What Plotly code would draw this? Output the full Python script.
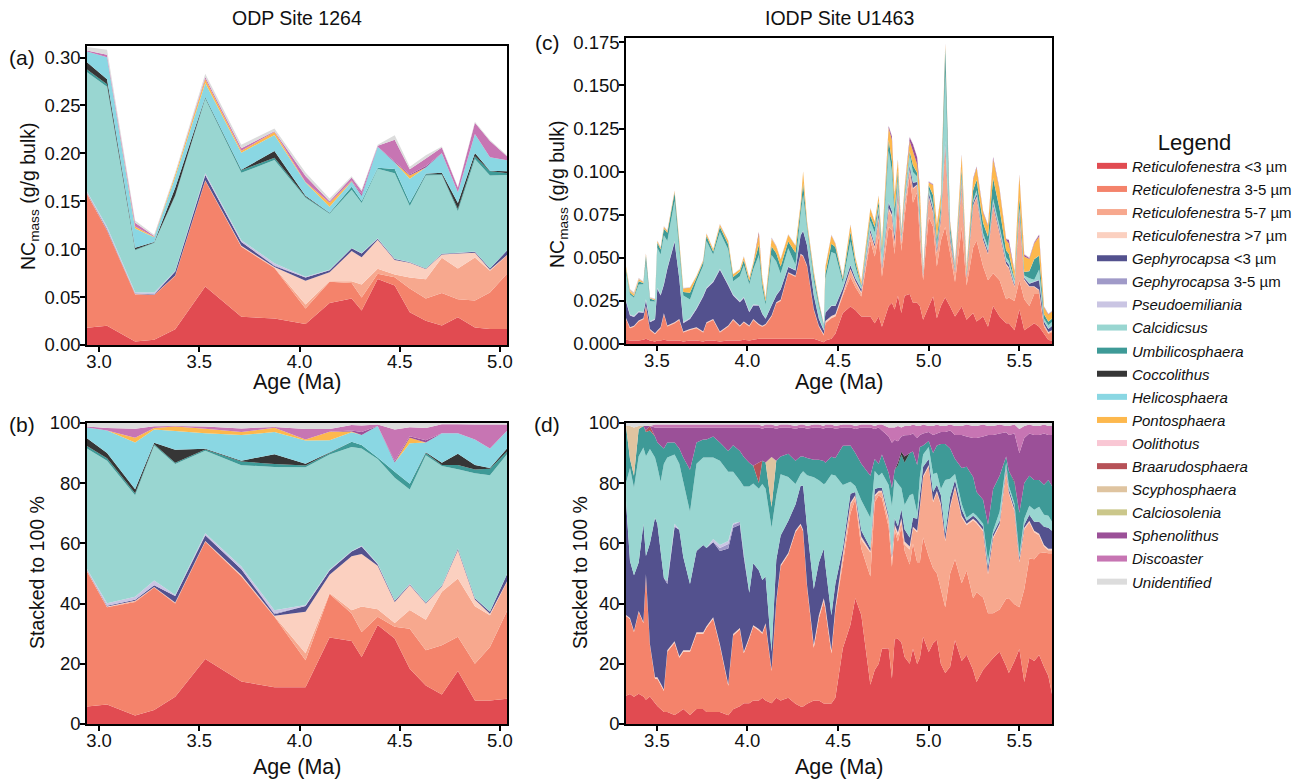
import numpy as np
import plotly.graph_objects as go

# =================== ODP Site 1264 ===================
age_1264 = [2.94, 3.04, 3.18, 3.275, 3.38, 3.53, 3.71, 3.875, 4.03, 4.15, 4.26,
            4.31, 4.39, 4.475, 4.55, 4.63, 4.71, 4.79, 4.875, 4.95, 5.035]
total_1264 = [0.311, 0.308, 0.130, 0.115, 0.180, 0.283, 0.209, 0.226, 0.180, 0.153, 0.176,
              0.162, 0.209, 0.219, 0.186, 0.198, 0.207, 0.165, 0.233, 0.214, 0.198]
# relative abundance (%) per group
p1264_R3 = [5.8, 6.5, 2.8, 4.7, 9.1, 21.6, 14.1, 12.2, 12.2, 28.7, 27.6, 22.3, 32.9, 28.4, 18.4, 12.8, 9.8, 17.6, 7.8, 7.8, 8.4]
p1264_R35 = [44.9, 32.3, 37.8, 40.7, 31.0, 39.1, 34.9, 23.4, 9.0, 14.5, 9.1, 8.3, 2.7, 3.9, 13.3, 11.7, 16.4, 11.4, 12.2, 17.8, 29.2]
p1264_R57 = [0.2, 0.1, 0.3, 0.1, 0.2, 0.1, 0.2, 0.2, 2.3, 0.3, 1.1, 8.4, 2.5, 1.3, 6.2, 10.2, 17.8, 19.4, 19.2, 10.6, 9.7]
p1264_R7 = [0.1, 0.1, 0.1, 0.1, 0.1, 0.1, 0.3, 0.2, 13.8, 6.1, 17.9, 17.5, 14.5, 7.0, 8.3, 5.4, 1.7, 9.5, 2.2, 0.5, 0.2]
p1264_G3 = [0.2, 0.3, 0.3, 0.6, 2.2, 1.9, 1.9, 0.5, 1.9, 1.4, 1.6, 2.5, 0.5, 0.4, 0.3, 0.2, 0.3, 0.4, 0.4, 0.6, 2.3]
p1264_G35 = [0, 0, 0, 0, 0, 0, 0, 0.3, 0, 0, 0, 0, 0, 0, 0, 0, 0, 0, 0, 0, 0]
p1264_Ps = [0.3, 0.8, 1.0, 1.6, 0.3, 0.7, 0.9, 1.0, 0.3, 0.3, 0.2, 0.2, 0.2, 0.1, 0.1, 0.1, 0.1, 0.1, 0.1, 0.1, 0.1]
p1264_Calc = [40.0, 47.4, 33.8, 44.9, 43.6, 27.5, 33.7, 47.6, 45.8, 38.2, 34.5, 32.3, 34.7, 40.8, 31.4, 49.0, 39.7, 26.3, 41.5, 45.3, 39.8]
p1264_Umb = [0.9, 0.8, 0.6, 0.4, 0.4, 0.4, 1.2, 1.0, 0.6, 0.5, 1.8, 1.2, 0.5, 2.0, 1.9, 0.7, 0.3, 1.4, 1.2, 2.2, 0.9]
p1264_Cocc = [2.5, 1.7, 1.4, 0.5, 4.3, 0.2, 0.3, 3.2, 0.6, 0.2, 0, 0, 0, 0, 0, 0.3, 0.8, 3.8, 1.5, 0.2, 1.0]
p1264_Heli = [3.6, 7.5, 15.5, 4.4, 6.2, 5.2, 8.5, 7.4, 7.7, 4.1, 3.1, 3.3, 10.5, 3.1, 13.5, 3.2, 9.8, 6.8, 8.5, 6.5, 5.9]
p1264_Pont = [0, 0, 1.6, 0.5, 1.5, 1.5, 1.0, 1.4, 0.3, 2.8, 0.3, 0, 0, 0, 1.8, 0, 0, 0, 0, 0, 0]
p1264_Ool = [0, 0, 0, 0, 0, 0, 0, 0, 0, 0, 0, 0, 0, 0, 0, 0, 0, 0, 0, 0, 0]
p1264_Braa = [0, 0, 0, 0, 0, 0, 0, 0, 0, 0, 0, 0, 0, 0, 0, 0, 0, 0, 0, 0, 0]
p1264_Scy = [0, 0, 0, 0, 0, 0, 0, 0, 0, 0, 0, 0, 0, 0, 0, 0, 0, 0, 0, 0, 0]
p1264_Calcio = [0, 0, 0, 0, 0, 0, 0, 0, 0, 0, 0, 0, 0, 0, 0, 0, 0, 0, 0, 0, 0]
p1264_Sph = [0, 0, 0, 0, 0, 0, 0, 0, 0, 0, 0.3, 1.0, 0, 0.5, 0.5, 0.8, 0, 0, 0, 0, 0]
p1264_Disc = [0.3, 0.8, 3.0, 0.6, 0.2, 0.7, 1.2, 0.3, 3.5, 0.9, 1.8, 2.2, 0.5, 10.4, 3.0, 4.0, 3.0, 3.0, 5.0, 8.0, 2.1]
p1264_Unid = [1.2, 1.7, 1.9, 1.1, 1.0, 1.2, 1.8, 1.3, 2.0, 2.0, 0.7, 0.8, 0.5, 2.2, 1.4, 1.7, 0.4, 0.4, 0.5, 0.5, 0.5]

# =================== IODP Site U1463 ===================
age_u1463 = [3.330, 3.352, 3.374, 3.400, 3.426, 3.440, 3.462, 3.490, 3.503, 3.521, 3.539, 3.558,
             3.598, 3.624, 3.646, 3.683, 3.719, 3.756, 3.774, 3.811, 3.848, 3.894, 3.921, 3.958, 3.980, 4.010, 4.032,
             4.063, 4.082, 4.100, 4.133, 4.159, 4.183, 4.225, 4.265, 4.293, 4.307, 4.329, 4.366, 4.394, 4.421,
             4.430, 4.463, 4.485, 4.526, 4.568, 4.595, 4.628, 4.678, 4.702, 4.724, 4.742,
             4.779, 4.797, 4.812, 4.830, 4.849, 4.867, 4.895, 4.913, 4.936, 4.951, 4.969, 5.000, 5.024, 5.045,
             5.067, 5.091, 5.118, 5.145, 5.182, 5.209, 5.245, 5.264, 5.300, 5.327, 5.355, 5.391, 5.427, 5.442,
             5.473, 5.500, 5.527, 5.555, 5.582, 5.609, 5.636, 5.660, 5.680]

# NC mass (g/g bulk), panel c
c_R3 = [0.0025, 0.002, 0.002, 0.002, 0.0025, 0.003, 0.002, 0.0015, 0.002, 0.002, 0.0025, 0.002,
        0.002, 0.002, 0.0015, 0.002, 0.002, 0.0015, 0.002, 0.002, 0.0015, 0.002, 0.002, 0.002, 0.0025, 0.002, 0.0025,
        0.003, 0.003, 0.003, 0.003, 0.003, 0.003, 0.003, 0.003, 0.003, 0.003, 0.003, 0.003, 0.002, 0.001,
        0.002, 0.003, 0.006, 0.018, 0.0217, 0.0197, 0.016, 0.016, 0.012, 0.016, 0.010,
        0.022, 0.024, 0.020, 0.028, 0.018, 0.028, 0.029, 0.024, 0.024, 0.022, 0.014, 0.0217, 0.0275, 0.015,
        0.022, 0.027, 0.0217, 0.016, 0.0217, 0.014, 0.018, 0.013, 0.016, 0.010, 0.022, 0.016, 0.012, 0.012,
        0.008, 0.020, 0.008, 0.010, 0.012, 0.010, 0.006, 0.0023, 0.002]
c_R35 = [0.012, 0.0071, 0.008, 0.011, 0.0119, 0.0187, 0.0061, 0.0042, 0.0052, 0.0071, 0.0148, 0.0081,
         0.010, 0.0119, 0.0052, 0.0061, 0.0071, 0.0052, 0.010, 0.0119, 0.0052, 0.0081, 0.0119, 0.0081, 0.010, 0.0081, 0.0114,
         0.008, 0.007, 0.008, 0.013, 0.0206, 0.022, 0.038, 0.036, 0.0487, 0.0477, 0.042, 0.0167, 0.008, 0.004,
         0.010, 0.0119, 0.0099, 0.010, 0.0173, 0.0133, 0.0115, 0.044, 0.0387, 0.0463, 0.029,
         0.046, 0.042, 0.032, 0.054, 0.036, 0.046, 0.069, 0.058, 0.064, 0.038, 0.023, 0.052, 0.0405, 0.030,
         0.038, 0.041, 0.031, 0.020, 0.046, 0.020, 0.038, 0.047, 0.029, 0.027, 0.019, 0.021, 0.014, 0.015,
         0.017, 0.017, 0.018, 0.012, 0.017, 0.019, 0.004, 0.0037, 0.005]
c_R57 = [0.0003, 0.0003, 0.0003, 0.0003, 0.0003, 0.0003, 0.0003, 0.0003, 0.0003, 0.0003, 0.0003, 0.0003,
         0.0003, 0.0003, 0.0003, 0.0003, 0.0003, 0.0003, 0.0003, 0.0003, 0.0003, 0.0003, 0.0003, 0.0003, 0.0003, 0.0003, 0.0003,
         0.0003, 0.0003, 0.0003, 0.0003, 0.0003, 0.0003, 0.0003, 0.0003, 0.0003, 0.0003, 0.0003, 0.0003, 0.0003, 0.0003,
         0.0003, 0.0003, 0.0003, 0.001, 0.004, 0.003, 0.002, 0.004, 0.005, 0.011, 0.004,
         0.010, 0.008, 0.006, 0.006, 0.004, 0.006, 0.003, 0.008, 0.004, 0.008, 0.002, 0.0116, 0.008, 0.0077,
         0.012, 0.047, 0.0073, 0.005, 0.025, 0.004, 0.024, 0.025, 0.015, 0.015, 0.039, 0.027, 0.020, 0.017,
         0.008, 0.039, 0.011, 0.011, 0.004, 0.002, 0.001, 0.0005, 0.0005]
c_R7 = [0.0003, 0.0003, 0.0003, 0.0003, 0.0003, 0.0003, 0.0003, 0.0003, 0.0003, 0.0003, 0.0003, 0.0003,
        0.0003, 0.0003, 0.0003, 0.0003, 0.0003, 0.0003, 0.0003, 0.0003, 0.0003, 0.0003, 0.0003, 0.0003, 0.0003, 0.0003, 0.0003,
        0.0003, 0.0003, 0.0003, 0.0003, 0.0003, 0.0003, 0.0003, 0.0003, 0.0003, 0.0003, 0.0003, 0.0003, 0.0003, 0.0005,
        0.001, 0.001, 0.001, 0.0007, 0.0007, 0.0007, 0.0007, 0.0007, 0.0007, 0.0007, 0.0007,
        0.001, 0.001, 0.001, 0.001, 0.001, 0.001, 0.0005, 0.0005, 0.0005, 0.0005, 0.0005, 0.0005, 0.0005, 0.0005,
        0.0005, 0.0005, 0.0005, 0.0005, 0.0005, 0.0005, 0.0005, 0.0005, 0.0005, 0.0005, 0.0005, 0.0005, 0.0005, 0.0005,
        0.0005, 0.0005, 0.0005, 0.0005, 0.0005, 0.0005, 0.0005, 0.0005, 0.0005]
c_G3 = [0.0097, 0.0068, 0.005, 0.0048, 0.003, 0.003, 0.0039, 0.0077, 0.0242, 0.0184, 0.0165, 0.0329,
        0.0465, 0.0233, 0.0048, 0.0058, 0.0106, 0.0203, 0.0194, 0.0213, 0.0358, 0.0232, 0.0136, 0.0135, 0.0136, 0.0077, 0.0078,
        0.0107, 0.0068, 0.003, 0.0057, 0.0039, 0.006, 0.003, 0.003, 0.0106, 0.0143, 0.0115, 0.0078, 0.004, 0.002,
        0.0048, 0.0058, 0.0048, 0.0025, 0.002, 0.0015, 0.0015, 0.0015, 0.0015, 0.0025, 0.0015,
        0.003, 0.002, 0.003, 0.003, 0.001, 0.001, 0.002, 0.003, 0.0015, 0.0015, 0.0008, 0.002, 0.002, 0.002,
        0.002, 0.002, 0.002, 0.001, 0.002, 0.001, 0.0015, 0.0015, 0.0015, 0.0015, 0.0015, 0.0015, 0.0015, 0.0015,
        0.001, 0.001, 0.001, 0.0015, 0.0025, 0.0055, 0.0015, 0.0017, 0.0025]
c_G35 = [0.0002, 0.0002, 0.0002, 0.0002, 0.0002, 0.0002, 0.0002, 0.0002, 0.0002, 0.0002, 0.0002, 0.0002,
         0.0002, 0.0002, 0.0002, 0.0002, 0.0002, 0.0002, 0.0002, 0.0002, 0.0002, 0.0002, 0.0002, 0.0002, 0.0002, 0.0002, 0.0002,
         0.0001, 0.0001, 0.0001, 0.0001, 0.0001, 0.0001, 0.0001, 0.0001, 0.0001, 0.0001, 0.0001, 0.0001, 0.0001, 0.0001,
         0.0001, 0.0001, 0.0001, 0.0001, 0.0001, 0.0001, 0.0001, 0.0001, 0.0001, 0.0001, 0.0001,
         0.0001, 0.0001, 0.0001, 0.0001, 0.0001, 0.0001, 0.0001, 0.0001, 0.0001, 0.0001, 0.0001, 0.0001, 0.0001, 0.0001,
         0.0001, 0.0001, 0.0001, 0.0001, 0.0001, 0.0001, 0.0001, 0.0001, 0.0001, 0.0001, 0.0001, 0.0001, 0.0001, 0.0001,
         0.0001, 0.0001, 0.0001, 0.0001, 0.0001, 0.0001, 0.0001, 0.0001, 0.0001]
c_Ps = [0.0004, 0.0004, 0.0004, 0.0004, 0.0004, 0.0004, 0.0004, 0.0004, 0.0004, 0.0004, 0.0004, 0.0004,
        0.0004, 0.0004, 0.0004, 0.0004, 0.0004, 0.0004, 0.0004, 0.0004, 0.0004, 0.0004, 0.0004, 0.0004, 0.0004, 0.0004, 0.0004,
        0.0002, 0.0002, 0.0002, 0.0002, 0.0002, 0.0002, 0.0002, 0.0002, 0.0002, 0.0002, 0.0002, 0.0002, 0.0002, 0.0002,
        0.0002, 0.0002, 0.0002, 0.0002, 0.0002, 0.0002, 0.0002, 0.0002, 0.0002, 0.0002, 0.0002,
        0.0001, 0.0001, 0.0001, 0.0001, 0.0001, 0.0001, 0.0001, 0.0001, 0.0001, 0.0001, 0.0001, 0.0001, 0.0001, 0.0001,
        0.0001, 0.0001, 0.0001, 0.0001, 0.0001, 0.0001, 0.0001, 0.0001, 0.0001, 0.0001, 0.0001, 0.0001, 0.0001, 0.0001,
        0.0001, 0.0001, 0.0001, 0.0001, 0.0001, 0.0001, 0.0001, 0.0001, 0.0001]
c_Calc = [0.0155, 0.0116, 0.0106, 0.0155, 0.016, 0.0213, 0.0116, 0.0101, 0.0232, 0.0232, 0.0281, 0.0155,
          0.0232, 0.0155, 0.0155, 0.0107, 0.0155, 0.0174, 0.0271, 0.0155, 0.0213, 0.0203, 0.0077, 0.0145, 0.0184, 0.0155, 0.0203,
          0.029, 0.0145, 0.0077, 0.029, 0.0195, 0.009, 0.0106, 0.003, 0.0117, 0.0206, 0.0095, 0.0085, 0.0067, 0.002,
          0.0192, 0.031, 0.030, 0.003, 0.0135, 0.0065, 0.001, 0.005, 0.0065, 0.003, 0.0065,
          0.030, 0.023, 0.010, 0.004, 0.002, 0.003, 0.006, 0.006, 0.003, 0.004, 0.0005, 0.002, 0.002, 0.002,
          0.002, 0.040, 0.002, 0.001, 0.002, 0.001, 0.001, 0.002, 0.002, 0.002, 0.002, 0.002, 0.002, 0.002,
          0.002, 0.001, 0.001, 0.003, 0.001, 0.006, 0.0015, 0.002, 0.002]
c_Umb = [0.0023, 0.001, 0.0009, 0.0019, 0.0007, 0.0039, 0.0016, 0.0006, 0.0029, 0.0029, 0.0038, 0.0048,
         0.0048, 0.0038, 0.0019, 0.0039, 0.002, 0.002, 0.0029, 0.0016, 0.0029, 0.0029, 0.0024, 0.0026, 0.0029, 0.0019, 0.0025,
         0.0058, 0.003, 0.0019, 0.0049, 0.0047, 0.004, 0.0039, 0.007, 0.0038, 0.0067, 0.002, 0.003, 0.002, 0.0007,
         0.003, 0.0048, 0.0039, 0.002, 0.0055, 0.0029, 0.001, 0.003, 0.003, 0.003, 0.003,
         0.006, 0.006, 0.006, 0.004, 0.001, 0.002, 0.002, 0.004, 0.002, 0.004, 0.0005, 0.002, 0.0056, 0.0035,
         0.004, 0.014, 0.004, 0.001, 0.004, 0.001, 0.006, 0.006, 0.006, 0.006, 0.012, 0.010, 0.004, 0.004,
         0.001, 0.006, 0.002, 0.004, 0.012, 0.008, 0.0025, 0.002, 0.002]
c_Cocc = [0, 0, 0, 0, 0, 0, 0, 0, 0, 0, 0, 0, 0, 0, 0, 0, 0, 0, 0, 0, 0, 0, 0, 0, 0, 0, 0,
          0, 0, 0, 0, 0, 0, 0, 0, 0, 0, 0, 0, 0, 0, 0, 0, 0, 0, 0, 0, 0, 0, 0, 0, 0,
          0, 0, 0, 0.0003, 0.0003, 0.0003, 0, 0, 0, 0, 0, 0, 0, 0, 0, 0, 0, 0, 0, 0, 0, 0, 0, 0,
          0, 0, 0, 0, 0, 0, 0, 0, 0, 0, 0, 0, 0, 0, 0, 0, 0]
c_Heli = [0.0001, 0.0001, 0.0001, 0.0001, 0.0001, 0.0001, 0.0001, 0.0001, 0.0001, 0.0001, 0.0001, 0.0001,
          0.0001, 0.0001, 0.0001, 0.0001, 0.0001, 0.0001, 0.0001, 0.0001, 0.0001, 0.0001, 0.0001, 0.0001, 0.0001, 0.0001, 0.0001,
          0.0001, 0.0001, 0.0001, 0.0001, 0.0001, 0.0001, 0.0001, 0.0001, 0.0001, 0.0001, 0.0001, 0.0001, 0.0001, 0.0001,
          0.0001, 0.0001, 0.0001, 0.0001, 0.0001, 0.0001, 0.0001, 0.0001, 0.0001, 0.0001, 0.0001,
          0.0001, 0.0001, 0.0001, 0.0001, 0.0001, 0.0001, 0.0001, 0.0001, 0.0001, 0.0001, 0.0001, 0.0001, 0.0001, 0.0001,
          0.0001, 0.0001, 0.0001, 0.0001, 0.0001, 0.0001, 0.0001, 0.0001, 0.0001, 0.0001, 0.0001, 0.0001, 0.0001, 0.0001,
          0.0001, 0.0001, 0.0001, 0.0001, 0.0001, 0.0001, 0.0001, 0.0001, 0.0001]
c_Pont = [0.0016, 0.0009, 0.001, 0.001, 0.0006, 0.0009, 0.0004, 0.0006, 0.001, 0.001, 0.001, 0.001,
          0.001, 0.002, 0.002, 0.0029, 0.0009, 0.0009, 0.0013, 0.0013, 0.0013, 0.002, 0.0015, 0.0013, 0.0019, 0.002, 0.0014,
          0.0058, 0.003, 0.002, 0.0044, 0.0039, 0.004, 0.0038, 0.004, 0.0022, 0.0067, 0.002, 0.002, 0.001, 0.0003,
          0.004, 0.0048, 0.0019, 0.001, 0.004, 0.0023, 0.002, 0.004, 0.003, 0.0031, 0.0035,
          0.007, 0.012, 0.008, 0.006, 0.002, 0.003, 0.006, 0.008, 0.005, 0.012, 0.0005, 0.0016, 0.0058, 0.008,
          0.0056, 0.002, 0.002, 0.001, 0.008, 0.002, 0.006, 0.007, 0.006, 0.006, 0.011, 0.011, 0.006, 0.006,
          0.004, 0.013, 0.009, 0.007, 0.009, 0.011, 0.004, 0.004, 0.004]
c_Ool = [0, 0, 0, 0, 0, 0, 0, 0, 0, 0, 0, 0, 0, 0, 0, 0, 0, 0, 0, 0, 0, 0, 0, 0, 0, 0, 0,
         0, 0, 0, 0, 0, 0, 0, 0, 0, 0, 0, 0, 0, 0, 0, 0, 0, 0, 0, 0, 0, 0, 0, 0, 0,
         0, 0, 0, 0, 0, 0, 0, 0, 0, 0, 0, 0, 0, 0, 0, 0, 0, 0, 0, 0, 0, 0, 0, 0, 0, 0, 0, 0,
         0, 0, 0, 0, 0, 0, 0, 0, 0]
c_Braa = [0, 0, 0, 0, 0, 0.0003, 0, 0, 0, 0, 0, 0, 0, 0, 0, 0, 0, 0, 0, 0, 0, 0, 0, 0, 0, 0, 0,
          0.0015, 0, 0, 0, 0, 0, 0, 0, 0, 0, 0, 0, 0, 0, 0, 0, 0, 0, 0, 0, 0, 0, 0, 0, 0,
          0, 0, 0, 0, 0, 0, 0, 0, 0, 0, 0, 0, 0, 0, 0, 0, 0, 0, 0, 0, 0, 0, 0, 0, 0, 0, 0, 0,
          0, 0, 0, 0, 0, 0, 0, 0, 0]
c_Scy = [0, 0.0008, 0.001, 0.0005, 0, 0, 0, 0, 0, 0, 0, 0, 0, 0, 0, 0, 0, 0, 0, 0, 0, 0, 0, 0, 0, 0, 0,
         0, 0, 0, 0.0004, 0, 0, 0, 0, 0, 0, 0, 0, 0, 0, 0, 0, 0, 0, 0, 0, 0, 0, 0, 0, 0,
         0, 0, 0, 0, 0, 0, 0, 0, 0, 0, 0, 0, 0, 0, 0, 0, 0, 0, 0, 0, 0, 0, 0, 0, 0, 0, 0, 0,
         0, 0, 0, 0, 0, 0, 0, 0, 0]
c_Calcio = [0, 0, 0, 0, 0, 0, 0, 0, 0, 0, 0, 0, 0, 0, 0, 0, 0, 0, 0, 0, 0, 0, 0, 0, 0, 0, 0,
            0, 0, 0, 0, 0, 0, 0, 0, 0, 0, 0, 0, 0, 0, 0, 0, 0, 0, 0, 0, 0, 0, 0, 0, 0,
            0, 0, 0, 0, 0, 0, 0, 0, 0, 0, 0, 0, 0, 0, 0, 0, 0, 0, 0, 0, 0, 0, 0, 0, 0, 0, 0, 0,
            0, 0, 0, 0, 0, 0, 0, 0, 0]
c_Sph = [0, 0, 0, 0, 0, 0, 0, 0, 0, 0, 0, 0, 0, 0, 0, 0, 0, 0, 0, 0, 0, 0, 0, 0, 0, 0, 0,
         0.0001, 0.0001, 0.0001, 0.0001, 0.0001, 0.0001, 0.0001, 0.0001, 0.0001, 0.0001, 0.0001, 0.0001, 0.0001, 0.0001,
         0.0001, 0.0001, 0.0001, 0.0001, 0.0001, 0.0001, 0.0001, 0.0001, 0.0001, 0.0001, 0.0001,
         0.001, 0.002, 0.0003, 0.0003, 0.0003, 0.0003, 0.002, 0.004, 0.004, 0.0005, 0.0002, 0.0003, 0.0003, 0.0003,
         0.0003, 0.0005, 0.0003, 0.0003, 0.0005, 0.0003, 0.0005, 0.0005, 0.0005, 0.0005, 0.001, 0.0005, 0.0005, 0.002,
         0.0003, 0.0005, 0.001, 0.0005, 0.0005, 0.001, 0.0003, 0.0002, 0.0002]
c_Disc = [0.0001, 0.0001, 0.0001, 0.0001, 0.0001, 0.0001, 0.0001, 0.0001, 0.0001, 0.0001, 0.0001, 0.0001,
          0.0001, 0.0001, 0.0001, 0.0001, 0.0001, 0.0001, 0.0001, 0.0001, 0.0001, 0.0001, 0.0001, 0.0001, 0.0001, 0.0001, 0.0001,
          0.0001, 0.0001, 0.0001, 0.0001, 0.0001, 0.0001, 0.0001, 0.0001, 0.0001, 0.0001, 0.0001, 0.0001, 0.0001, 0.0001,
          0.0001, 0.0001, 0.0001, 0.0001, 0.0001, 0.0001, 0.0001, 0.0001, 0.0001, 0.0001, 0.0001,
          0.0002, 0.0002, 0.0002, 0.0002, 0.0002, 0.0002, 0.0002, 0.0002, 0.0002, 0.0002, 0.0002, 0.0002, 0.0002, 0.0002,
          0.0002, 0.0002, 0.0002, 0.0002, 0.0002, 0.0002, 0.0002, 0.0002, 0.0002, 0.0002, 0.0002, 0.0002, 0.0002, 0.0002,
          0.0002, 0.0002, 0.0002, 0.0002, 0.0002, 0.0002, 0.0002, 0.0002, 0.0002]
c_Unid = [0.0003, 0.0003, 0.0003, 0.0003, 0.0003, 0.0003, 0.0003, 0.0003, 0.0003, 0.0003, 0.0003, 0.0003,
          0.0003, 0.0003, 0.0003, 0.0003, 0.0003, 0.0003, 0.0003, 0.0003, 0.0003, 0.0003, 0.0003, 0.0003, 0.0003, 0.0003, 0.0003,
          0.0003, 0.0003, 0.0003, 0.0003, 0.0003, 0.0003, 0.0003, 0.0003, 0.0003, 0.0003, 0.0003, 0.0003, 0.0003, 0.0003,
          0.0003, 0.0003, 0.0003, 0.0003, 0.0003, 0.0003, 0.0003, 0.0003, 0.0003, 0.0003, 0.0003,
          0.0003, 0.0003, 0.0003, 0.0003, 0.0003, 0.0003, 0.0003, 0.0003, 0.0003, 0.0003, 0.0003, 0.0003, 0.0003, 0.0003,
          0.0003, 0.0003, 0.0003, 0.0003, 0.0003, 0.0003, 0.0003, 0.0003, 0.0003, 0.0003, 0.0003, 0.0003, 0.0003, 0.0003,
          0.0003, 0.0003, 0.0003, 0.0003, 0.0003, 0.0003, 0.0003, 0.0003, 0.0003]

# relative abundance (%), panel d
d_R3 = [9.4, 10, 9, 10, 9, 8, 9, 7, 6, 5, 4, 4,
        3, 4, 5, 3, 5, 5, 4, 4, 4, 3, 5, 6, 7, 7, 8,
        8, 9, 8, 7, 9, 8, 9, 7, 6, 6, 7, 8, 8, 7, 7, 7, 9, 25, 33, 42, 36, 13, 18, 20, 25,
        25, 15, 28, 28, 27, 22, 20, 25, 20, 22, 29, 24, 27, 28, 20, 17, 19, 28, 21, 23, 18, 14, 18, 20, 22, 24,
        19, 17, 21, 25, 14, 22, 21, 23, 19, 16, 10]
d_R35 = [26.6, 25, 21.5, 27, 24, 41, 17, 8, 9, 8, 7, 20,
         24, 18, 19, 21, 25, 25, 28, 31, 22, 10, 25, 26, 17, 22, 25,
         24, 22, 26, 11, 33, 46, 49, 59, 62, 60, 40, 18, 28, 35, 32, 17, 30, 28, 37, 33, 22, 36, 56, 56, 50,
         40, 37, 36, 32, 38, 35, 33, 35, 34, 32, 33, 32, 25, 22, 25, 22, 31, 27, 26, 28, 24, 30, 24, 17, 15, 14,
         22, 25, 19, 14, 31, 33, 34, 34, 38, 41, 47]
d_R57 = [0, 0, 0, 0, 0, 0, 0, 0, 0, 0, 0, 0,
         0, 0, 0, 0, 0, 0, 0, 0, 0, 0, 0, 0, 0, 0, 0,
         0, 0, 0, 0, 0, 0, 0, 0, 0, 0, 0, 0, 0, 0, 0, 0, 0, 2, 3, 1, 3, 8, 2, 1, 2,
         2, 2, 1, 2, 2, 2, 5, 5, 10, 18, 20, 30, 22, 27, 28, 22, 22, 24, 22, 15, 26, 23, 22, 13, 25, 28,
         42, 35, 31, 15, 20, 12, 9, 6, 2, 1, 1]
d_R7 = [0.3, 0.3, 0.3, 0.3, 0.3, 0.5, 0.3, 0.5, 0.5, 0.5, 0.5, 0.5,
        0.5, 0.5, 0.5, 0.5, 0.5, 0.5, 0.5, 0.5, 0.5, 0.5, 0.5, 0.5, 0.5, 0.5, 0.5,
        0.5, 0.5, 0.5, 0.5, 0.5, 0.5, 0.5, 0.5, 0.5, 0.5, 0.5, 1, 1, 1, 1, 1, 1, 1, 0.5, 0.5, 1, 0.5, 0.5, 0.5, 0.5,
        1, 1, 1, 1, 1, 1, 1, 0.5, 0.5, 0.5, 0.5, 0.5, 0.5, 0.5, 0.5, 0.5, 0.5, 0.5, 0.5, 0.5, 0.5, 0.5, 0.5, 0.5, 0.5, 0.5,
        0.5, 0.5, 0.5, 0.5, 0.5, 0.5, 0.5, 0.5, 0.5, 0.5, 0.5]
d_G3 = [38, 19, 18.5, 16, 32, 6, 33, 53, 51, 44, 37, 22,
        38, 42, 31, 22, 27, 29, 26, 25, 31, 46, 36, 35, 32, 15, 21,
        20, 18, 16, 6, 14, 10, 11, 9, 13, 15, 20, 19, 18, 17, 14, 12, 8, 2, 3, 1, 2, 1, 2, 1, 1,
        1, 1, 2, 2, 3, 4, 3, 3, 4, 4, 3, 2, 3, 2, 3, 2, 3, 2, 2, 1, 1, 1, 1, 2, 1, 1,
        1, 1, 1, 1, 1, 2, 3, 4, 6, 7, 6]
d_G35 = [0, 0, 0, 0, 0, 0, 0, 0, 0, 0, 0, 1,
         0, 0, 0, 0, 0, 0, 0, 0, 1, 1.5, 1, 1, 1, 0, 0,
         0, 0, 0, 0, 0, 0, 0, 0, 0, 0, 0, 0, 0, 0, 0, 0, 0, 0, 0, 0, 0, 0, 0, 0, 0,
         0, 0, 0, 0, 0, 0, 0, 0, 0, 0, 0, 0, 0, 0, 0, 0, 0, 0, 0, 0, 0, 0, 0, 0, 0, 0,
         0, 0, 0, 0, 0, 0, 0, 0, 0, 0, 0]
d_Ps = [0, 0, 0, 0, 0, 0, 0, 0, 0, 0, 0, 0,
        1, 0, 0, 0, 0, 0, 0, 1, 1, 1, 0.5, 0, 0, 0, 0,
        0, 0, 0, 0, 0, 0, 0, 0, 0, 0, 0, 0, 0, 0, 0, 0, 0, 0, 0, 0, 0, 0, 0, 0, 0,
        0, 0, 0, 0, 0, 0, 0, 0, 0, 0, 0, 0, 0, 0, 0, 0, 0, 0, 0, 0, 0, 0, 0, 0, 0, 0,
        0, 0, 0, 0, 0, 0, 0, 0, 0, 0, 0]
d_Calc = [6, 31, 29, 35, 25, 33, 31, 20, 19, 23, 38, 41,
          23, 22, 25, 24, 29, 29, 30, 27, 28, 23.5, 17.5, 14, 23, 36, 27,
          28, 33, 30, 42, 22, 21, 15, 7, 4, 5, 18, 38, 28, 22, 28, 48, 37, 21, 4, 2, 10, 10, 6, 4, 5,
          10, 16, 13, 14, 7, 8, 14, 8, 2, 6, 4, 4, 6, 4, 2, 18, 6, 2, 2, 1, 1, 1, 1, 2, 1, 3,
          1, 1, 1, 1, 2, 3, 4, 5, 4, 4, 3]
d_Umb = [19, 3, 4, 9, 7, 8, 6, 7, 8, 12, 5, 5,
         4, 5, 8, 14, 7, 6, 6, 7, 6, 7, 9, 10, 10, 8, 6,
         2, 8, 9, 7, 12, 6, 8, 8, 6, 5, 6, 6, 7, 8, 7, 6, 6, 13, 12, 11, 12, 14, 4, 4, 6,
         4, 6, 3, 6, 11, 14, 14, 14, 16, 10, 3, 2, 7, 9, 15, 12, 10, 5, 12, 17, 12, 8, 8, 12, 14, 12,
         2, 5, 7, 14, 12, 10, 10, 9, 10, 12, 12]
d_Cocc = [0, 0, 0, 0, 0, 0, 0, 0, 0, 0, 0, 0,
          0, 0, 0, 0, 0, 0, 0, 0, 0, 0, 0, 0, 0, 0, 0,
          0, 0, 0, 0, 0, 0, 0, 0, 0, 0, 0, 0, 0, 0, 0, 0, 0, 0, 0, 0, 0, 0, 0, 0, 0,
          0, 0, 0, 1, 1, 2, 0, 0, 0, 0, 0, 0, 0, 0, 0, 0, 0, 0, 0, 0, 0, 0, 0, 0, 0, 0,
          0, 0, 0.5, 0, 0, 0, 0, 0, 0, 0, 0]
d_Heli = [0, 0, 0, 0, 0, 0, 0, 0, 0, 0, 0, 0,
          0, 0, 0, 0, 0, 0, 0, 0, 0, 0, 0, 0, 0, 0, 0,
          0, 0, 0, 0, 0, 0, 0, 0, 0, 0, 0, 0, 0, 0, 0, 0, 0, 0, 0, 0, 0, 0, 0, 0, 0,
          0, 0, 0, 0, 0, 0, 0, 0, 0, 0, 0, 0, 0, 0, 0, 0, 0, 0, 0, 0, 0, 0, 0, 0, 0, 0,
          0, 0, 0, 0, 0, 0, 0, 0, 0, 0, 0]
d_Pont = list(d_Heli)
d_Ool = list(d_Heli)
d_Calcio = list(d_Heli)
d_Braa = [0, 0, 0, 0, 0, 0.5, 1.5, 0, 0, 0, 0, 0,
          0, 0, 0, 0, 0, 0, 0, 0, 0, 0, 0, 0, 0, 0, 0,
          7, 0, 0, 0, 0, 0, 0, 0, 0, 0, 0, 0, 0, 0, 0, 0, 0, 0, 0, 0, 0, 0, 0, 0, 0,
          0, 0, 0, 0, 0, 0, 0, 0, 0, 0, 0, 0, 0, 0, 0, 0, 0, 0, 0, 0, 0, 0, 0, 0, 0, 0,
          0, 0, 0, 0, 0, 0, 0, 0, 0, 0, 0]
d_Scy = [0, 11, 16, 1, 0, 0, 0, 0, 0, 0, 0, 0,
         0, 0, 0, 0, 0, 0, 0, 0, 0, 0, 0, 0, 0, 0, 0,
         0, 0, 0, 17, 0, 0, 0, 0, 0, 0, 0, 0, 0, 0, 0, 0, 0, 0, 0, 0, 0, 0, 0, 0, 0,
         0, 0, 0, 0, 0, 0, 0, 0, 0, 0, 0, 0, 0, 0, 0, 0, 0, 0, 0, 0, 0, 0, 0, 0, 0, 0,
         0, 0, 0, 0, 0, 0, 0, 0, 0, 0, 0]
d_Sph = [0, 0, 0, 0, 0, 1.5, 0, 3, 5, 6, 7, 5,
         5, 7, 10, 14, 5, 4, 4, 3, 5, 8, 6, 8, 10, 12, 13,
         12, 11, 12, 10, 11, 10, 9, 11, 10, 10, 10, 11, 11, 11, 12, 10, 10, 6, 6, 8, 12, 16, 10, 12, 8,
         12, 15, 10, 7, 5, 7, 6, 6, 9, 4, 4, 3, 6, 4, 4, 4, 6, 8, 11, 10, 13, 18, 21, 30, 18, 14,
         8, 12, 16, 20, 15, 14, 15, 15, 17, 15, 17]
d_Disc = [0, 0, 0, 0, 0, 0, 0, 1, 1, 1, 1, 1,
          1, 1, 1, 1, 1, 1, 1, 1, 1, 1, 1, 1, 1, 1, 1,
          1, 1, 1, 1, 1, 1, 1, 1, 1, 1, 1, 1, 1, 1, 1, 1, 1, 1, 1, 1, 1, 1, 1, 1, 2,
          3, 5, 4, 5, 3, 3, 3, 3, 4, 3, 3, 2, 3, 3, 2, 2, 2, 3, 3, 4, 4, 4, 4, 3, 3, 3,
          2, 3, 3, 8, 4, 3, 3, 3, 3, 3, 3]
d_Unid = [1, 1, 1.5, 1, 1, 1, 1, 0.5, 0.5, 0.5, 0.5, 0.5,
          0.5, 0.5, 0.5, 0.5, 0.5, 0.5, 0.5, 0.5, 0.5, 0.5, 0.5, 0.5, 0.5, 0.5, 0.5,
          0.5, 1, 0.5, 0.5, 1, 0.5, 0.5, 1, 0.5, 0.5, 1, 0.5, 0.5, 1, 0.5, 0.5, 1, 0.5, 0.5, 1, 0.5, 0.5, 1, 0.5, 0.5,
          1.5, 1.5, 1.5, 1, 1.5, 1, 1, 0.5, 1, 1, 0.5, 1, 1, 0.5, 1, 1, 0.5, 1, 1, 0.5, 1, 1, 0.5, 1, 1, 0.5,
          1, 1, 0.5, 2, 1, 0.5, 1, 1, 0.5, 1, 1]

# =================== groups ===================
KEYS = ["R3", "R35", "R57", "R7", "G3", "G35", "Ps", "Calc", "Umb", "Cocc",
        "Heli", "Pont", "Ool", "Braa", "Scy", "Calcio", "Sph", "Disc", "Unid"]
NAMES = ["<i>Reticulofenestra</i> &lt;3 µm", "<i>Reticulofenestra</i> 3-5 µm",
         "<i>Reticulofenestra</i> 5-7 µm", "<i>Reticulofenestra</i> &gt;7 µm",
         "<i>Gephyrocapsa</i> &lt;3 µm", "<i>Gephyrocapsa</i> 3-5 µm",
         "<i>Pseudoemiliania</i>", "<i>Calcidicsus</i>", "<i>Umbilicosphaera</i>",
         "<i>Coccolithus</i>", "<i>Helicosphaera</i>", "<i>Pontosphaera</i>",
         "<i>Oolithotus</i>", "<i>Braarudosphaera</i>", "<i>Scyphosphaera</i>",
         "<i>Calciosolenia</i>", "<i>Sphenolithus</i>", "<i>Discoaster</i>", "<i>Unidentified</i>"]
COLORS = ["#e14b51", "#f4836b", "#f7a88e", "#fbd0c0", "#53518e", "#a09ac8", "#cac5e3",
          "#99d6d1", "#3e9a97", "#363636", "#8ad7e3", "#fdb84d", "#f9c7d4", "#b65157",
          "#dfc4a0", "#cbc78b", "#9b5098", "#c775b3", "#dcdcdc"]

g = globals()
p1264 = {k: np.array(g["p1264_" + k], dtype=float) for k in KEYS}
c1463 = {k: np.array(g["c_" + k], dtype=float) for k in KEYS}
d1463 = {k: np.array(g["d_" + k], dtype=float) for k in KEYS}

psum = np.sum([p1264[k] for k in KEYS], axis=0)
a1264 = {k: p1264[k] / psum * np.array(total_1264) for k in KEYS}

fig = go.Figure()
for i, k in enumerate(KEYS):
    common = dict(mode="none", fillcolor=COLORS[i], line=dict(width=0),
                  legendgroup=k, hoverinfo="skip")
    kb = dict(groupnorm="percent") if i == 0 else {}
    fig.add_trace(go.Scatter(x=age_1264, y=a1264[k], stackgroup="a", name=NAMES[i],
                             showlegend=True, xaxis="x", yaxis="y", **common))
    fig.add_trace(go.Scatter(x=age_1264, y=p1264[k], stackgroup="b", name=NAMES[i],
                             showlegend=False, xaxis="x2", yaxis="y2", **kb, **common))
    fig.add_trace(go.Scatter(x=age_u1463, y=c1463[k], stackgroup="c", name=NAMES[i],
                             showlegend=False, xaxis="x3", yaxis="y3", **common))
    fig.add_trace(go.Scatter(x=age_u1463, y=d1463[k], stackgroup="d", name=NAMES[i],
                             showlegend=False, xaxis="x4", yaxis="y4", **kb, **common))

W, H = 1309, 784
def px_x(a, b):
    return [a / W, b / W]
def px_y(top, bottom):
    return [1 - bottom / H, 1 - top / H]

FONT = "Arial, Liberation Sans, Helvetica, sans-serif"
TXT = "#111111"
axis_common = dict(showline=True, linecolor="black", linewidth=1.5, mirror=True,
                   ticks="outside", ticklen=5, tickwidth=1.5, tickcolor="black",
                   showgrid=False, zeroline=False, automargin=False,
                   tickfont=dict(size=18.5, color=TXT, family=FONT))
xax = dict(ticklabelstandoff=-6, **axis_common)
yax = dict(ticklabelstandoff=-4, **axis_common)

fig.update_layout(
    width=W, height=H,
    margin=dict(l=0, r=0, t=0, b=0, pad=0, autoexpand=False),
    paper_bgcolor="white", plot_bgcolor="white",
    font=dict(family=FONT, color=TXT),
    xaxis=dict(domain=px_x(87, 507), range=[2.94, 5.035], tick0=3.0, dtick=0.5,
               tickformat=".1f", anchor="y", **xax),
    yaxis=dict(domain=px_y(46, 345), range=[0, 0.312], tick0=0, dtick=0.05,
               tickformat=".2f", anchor="x", **yax),
    xaxis2=dict(domain=px_x(87, 507), range=[2.94, 5.035], tick0=3.0, dtick=0.5,
                tickformat=".1f", anchor="y2", **xax),
    yaxis2=dict(domain=px_y(423, 724), range=[0, 100], tick0=0, dtick=20, anchor="x2", **yax),
    xaxis3=dict(domain=px_x(626, 1052), range=[3.33, 5.68], tick0=3.5, dtick=0.5,
                tickformat=".1f", anchor="y3", **xax),
    yaxis3=dict(domain=px_y(38, 344), range=[0, 0.1775], tick0=0, dtick=0.025,
                tickformat=".3f", anchor="x3", **yax),
    xaxis4=dict(domain=px_x(626, 1052), range=[3.33, 5.68], tick0=3.5, dtick=0.5,
                tickformat=".1f", anchor="y4", **xax),
    yaxis4=dict(domain=px_y(423, 724), range=[0, 100], tick0=0, dtick=20, anchor="x4", **yax),
    legend=dict(x=1092 / W, y=1 - 121 / H, xanchor="left", yanchor="top",
                traceorder="grouped", tracegroupgap=0.6,
                font=dict(size=15, family=FONT, color=TXT),
                title=dict(text="Legend", font=dict(size=22, family=FONT, color=TXT), side="top center"),
                bgcolor="rgba(0,0,0,0)"),
    showlegend=True,
)

# text labels: titles, panel letters, axis titles
ann = [
    ("ODP Site 1264", 297, 18, 19.5, 0),
    ("IODP Site U1463", 839, 18, 19.5, 0),
    ("(a)", 22, 57, 21, 0),
    ("(b)", 22, 424, 21, 0),
    ("(c)", 547, 43, 21, 0),
    ("(d)", 547, 424, 21, 0),
    ("Age (Ma)", 297, 382, 21.5, 0),
    ("Age (Ma)", 297, 767, 21.5, 0),
    ("Age (Ma)", 839, 382, 21.5, 0),
    ("Age (Ma)", 839, 767, 21.5, 0),
    ("NC<sub>mass</sub> (g/g bulk)", 30, 197, 19.5, -90),
    ("Stacked to 100 %", 37, 573, 19.5, -90),
    ("NC<sub>mass</sub> (g/g bulk)", 558, 195, 19.5, -90),
    ("Stacked to 100 %", 580, 573, 19.5, -90),
]
for txt, x, y, fs, ang in ann:
    fig.add_annotation(text=txt, x=x / W, y=1 - y / H, xref="paper", yref="paper",
                       showarrow=False, xanchor="center", yanchor="middle", textangle=ang,
                       font=dict(size=fs, family=FONT, color=TXT))

fig.write_html("out.html", config={"displayModeBar": False},
               post_script="document.body.style.margin='0px';document.body.style.overflow='hidden';")
